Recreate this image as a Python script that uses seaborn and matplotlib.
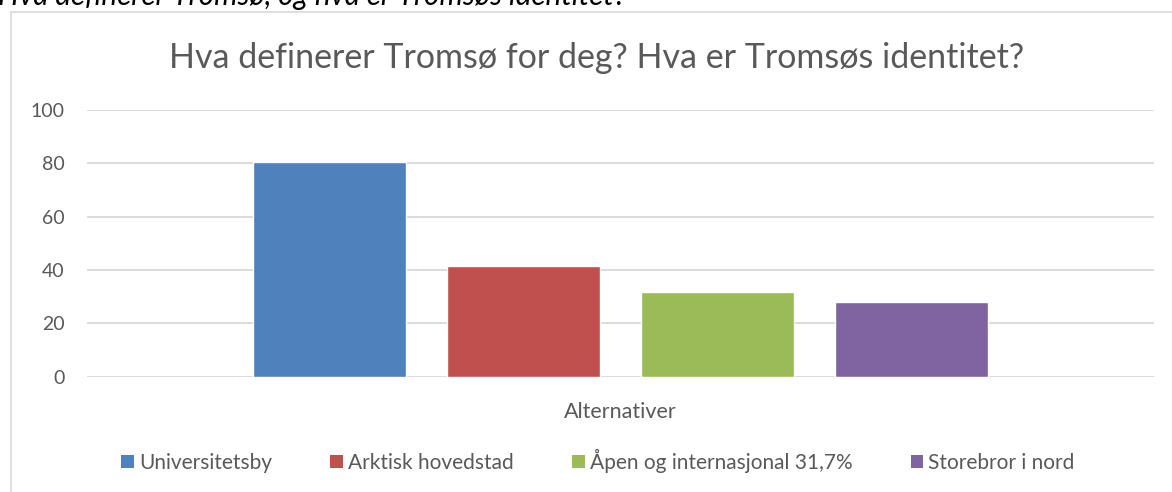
import matplotlib
matplotlib.use("Agg")
import matplotlib.pyplot as plt
import matplotlib.patches as mpatches
from matplotlib.lines import Line2D
import seaborn as sns

# data
alternativer = ["Universitetsby", "Arktisk hovedstad", "Åpen og internasjonal 31,7%", "Storebror i nord"]
prosent = [80.6, 41.5, 31.7, 28.0]
farger = ["#4F81BD", "#C0504D", "#9BBB59", "#8064A2"]
y_ticks = [0, 20, 40, 60, 80, 100]

tittel = "Hva definerer Tromsø for deg? Hva er Tromsøs identitet?"
overskrift = "Hva definerer Tromsø, og hva er Tromsøs identitet?"
tekst_farge = "#595959"
grid_farge = "#D9D9D9"

sns.set_style("white")
plt.rcParams["font.family"] = ["Lato", "DejaVu Sans"]

W, H = 1172, 492
fig = plt.figure(figsize=(W / 100, H / 100), dpi=100)
ax = fig.add_axes([87 / W, 1 - 376.7 / H, (1154 - 87) / W, (376.7 - 110) / H])

sns.barplot(x=alternativer, y=prosent, hue=alternativer, palette=farger,
            width=0.79, legend=False, saturation=1, ax=ax)

ax.set_xlim(-1.25, 4.25)
ax.set_ylim(0, 100)
ax.set_xticks([])
ax.set_yticks(y_ticks)
ax.tick_params(axis="y", length=0, pad=16, labelsize=14, labelcolor=tekst_farge)
ax.yaxis.grid(True, color=grid_farge, linewidth=1.3)
ax.set_axisbelow(True)
for s in ax.spines.values():
    s.set_visible(False)
ax.set_ylabel("")
ax.set_xlabel("Alternativer", fontsize=15.5, color=tekst_farge, labelpad=18)

fig.text(597 / W, 1 - 58 / H, tittel, ha="center", va="center",
         fontsize=24.5, color=tekst_farge)

# legend
handles = [mpatches.Patch(facecolor=c, edgecolor="none") for c in farger]
fig.legend(handles, alternativer, loc="center", ncol=4,
           bbox_to_anchor=(598 / W, 1 - 461 / H), frameon=False,
           fontsize=15, labelcolor=tekst_farge, handlelength=0.6,
           handleheight=0.6, handletextpad=0.25, columnspacing=2.8)

# chart frame (left and top edges visible)
fig.add_artist(Line2D([10.5 / W, 10.5 / W], [0, 1 - 12 / H], color=grid_farge, lw=1.2,
                      transform=fig.transFigure))
fig.add_artist(Line2D([10.5 / W, 1], [1 - 12 / H, 1 - 12 / H], color=grid_farge, lw=1.2,
                      transform=fig.transFigure))

# heading of the document above the chart, cut off at the top
fig.text(-2 / W, 1 - 5 / H, overskrift, ha="left", va="baseline",
         fontsize=21.3, style="italic", color="black")

fig.savefig("out.png", dpi=100)
